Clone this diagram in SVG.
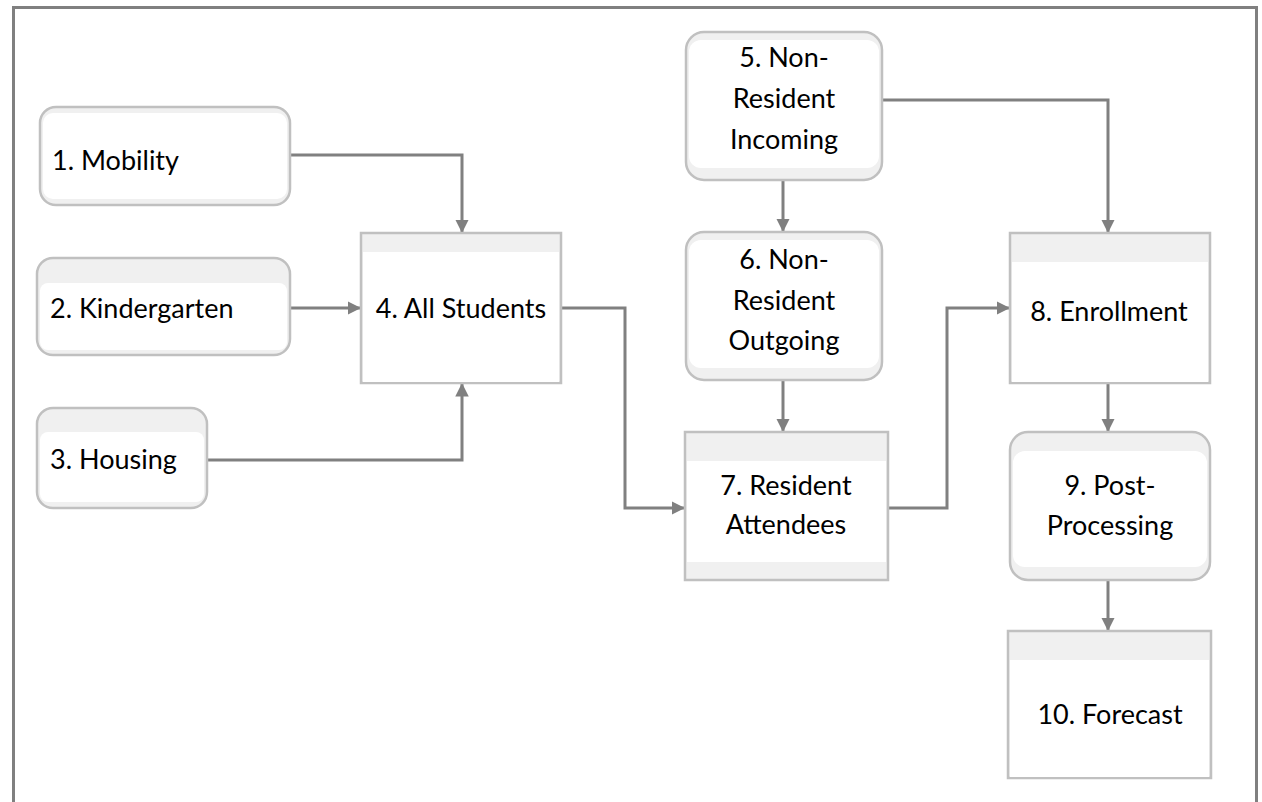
<svg xmlns="http://www.w3.org/2000/svg" width="1262" height="802" viewBox="0 0 1262 802">
<defs>
<style>
.frame{fill:none;stroke:#808080;stroke-width:3}
.box{fill:#f0f0f0;stroke:#c0c0c0;stroke-width:2.5}
.inner{fill:#ffffff}
.t{font-family:Lato,"Open Sans","Liberation Sans",sans-serif;font-size:27px;fill:#000}
.c{text-anchor:middle}
.conn{fill:none;stroke:#808080;stroke-width:3}
</style>
<marker id="arr" viewBox="0 0 10 10" refX="10" refY="5" markerWidth="4.5" markerHeight="4.5" markerUnits="strokeWidth" orient="auto">
<path d="M0,0 L10,5 L0,10 z" fill="#808080"/>
</marker>
</defs>
<rect width="1262" height="802" fill="#ffffff"/>
<path class="frame" d="M13.5,802 V7.5 H1256.5 V802"/>
<g id="connectors">
<path class="conn" marker-end="url(#arr)" d="M290,155 H462 V233"/>
<path class="conn" marker-end="url(#arr)" d="M290,308 H361"/>
<path class="conn" marker-end="url(#arr)" d="M207,460 H462 V383"/>
<path class="conn" marker-end="url(#arr)" d="M561,308 H625 V508 H685"/>
<path class="conn" marker-end="url(#arr)" d="M783,180 V232"/>
<path class="conn" marker-end="url(#arr)" d="M880,100 H1108 V233"/>
<path class="conn" marker-end="url(#arr)" d="M783,380 V432"/>
<path class="conn" marker-end="url(#arr)" d="M888,508 H947 V308 H1010"/>
<path class="conn" marker-end="url(#arr)" d="M1108,383 V432"/>
<path class="conn" marker-end="url(#arr)" d="M1108,580 V631"/>
</g>
<g id="n1">
<rect class="box" x="40" y="107" width="250" height="98" rx="16"/>
<rect class="inner" x="43" y="113" width="244" height="86" rx="10"/>
<text class="t" x="52" y="170">1. Mobility</text>
</g>
<g id="n2">
<rect class="box" x="37" y="258" width="253" height="97" rx="16"/>
<rect class="inner" x="40" y="283" width="247" height="67" rx="8"/>
<text class="t" x="50" y="318">2. Kindergarten</text>
</g>
<g id="n3">
<rect class="box" x="37" y="408" width="170" height="100" rx="16"/>
<rect class="inner" x="40" y="432" width="164" height="70" rx="8"/>
<text class="t" x="50" y="469">3. Housing</text>
</g>
<g id="n4">
<rect class="box" x="361" y="233" width="200" height="150"/>
<rect class="inner" x="363" y="252" width="196" height="130"/>
<text class="t c" x="461" y="318">4. All Students</text>
</g>
<g id="n5">
<rect class="box" x="686" y="32" width="196" height="148" rx="18"/>
<rect class="inner" x="689" y="40" width="190" height="128" rx="12"/>
<text class="t c" x="784" y="67">5. Non-</text>
<text class="t c" x="784" y="108">Resident</text>
<text class="t c" x="784" y="149">Incoming</text>
</g>
<g id="n6">
<rect class="box" x="686" y="232" width="196" height="148" rx="18"/>
<rect class="inner" x="689" y="240" width="190" height="128" rx="12"/>
<text class="t c" x="784" y="269">6. Non-</text>
<text class="t c" x="784" y="310">Resident</text>
<text class="t c" x="784" y="350">Outgoing</text>
</g>
<g id="n7">
<rect class="box" x="685" y="432" width="203" height="148"/>
<rect class="inner" x="687" y="461" width="199" height="101"/>
<text class="t c" x="786" y="495">7. Resident</text>
<text class="t c" x="786" y="534">Attendees</text>
</g>
<g id="n8">
<rect class="box" x="1010" y="233" width="200" height="150"/>
<rect class="inner" x="1012" y="262" width="196" height="120"/>
<text class="t c" x="1109" y="321">8. Enrollment</text>
</g>
<g id="n9">
<rect class="box" x="1010" y="432" width="200" height="148" rx="18"/>
<rect class="inner" x="1013" y="451" width="194" height="116" rx="12"/>
<text class="t c" x="1110" y="495">9. Post-</text>
<text class="t c" x="1110" y="535">Processing</text>
</g>
<g id="n10">
<rect class="box" x="1008" y="631" width="203" height="147"/>
<rect class="inner" x="1010" y="660" width="199" height="117"/>
<text class="t c" x="1110" y="724">10. Forecast</text>
</g>
</svg>
